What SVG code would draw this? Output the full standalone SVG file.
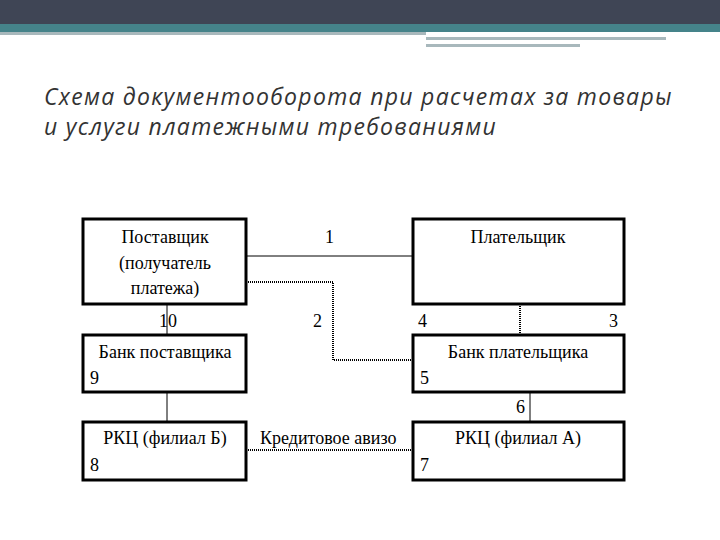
<svg xmlns="http://www.w3.org/2000/svg" width="720" height="540" viewBox="0 0 720 540">
<style>
.box{fill:#fff;stroke:#000;stroke-width:3}
.t{font-family:"Liberation Serif",serif;font-size:18px;fill:#000}
.ln{stroke:#000;stroke-width:1;fill:none}
.dt{stroke:#000;stroke-width:2;stroke-dasharray:1 1;fill:none}
.title{font-family:"Open Sans","DejaVu Sans",sans-serif;font-style:italic;font-size:23px;letter-spacing:1.3px;fill:#333}
</style>
<rect x="0" y="0" width="720" height="24" fill="#3f4555"/>
<rect x="0" y="24" width="720" height="8" fill="#45838a"/>
<rect x="0" y="32" width="426" height="3" fill="#a8b8bc"/>
<rect x="426" y="37" width="240" height="3" fill="#a8b8bc"/>
<rect x="426" y="44" width="154" height="3" fill="#a8b8bc"/>
<text class="title" x="44" y="105">Схема документооборота при расчетах за товары</text>
<text class="title" x="44" y="135">и услуги платежными требованиями</text>
<g id="connectors">
<path class="ln" d="M246 256H413"/>
<path class="dt" d="M246 282H333V360H413"/>
<path class="dt" d="M520 304V335"/>
<path class="ln" d="M167 304V345"/>
<path class="ln" d="M167 392V422"/>
<path class="ln" d="M530 392V422"/>
<path class="dt" d="M246 450H413"/>
<text class="t" x="325" y="243">1</text>
<text class="t" x="313" y="327">2</text>
<text class="t" x="609" y="327">3</text>
<text class="t" x="418" y="327">4</text>
<text class="t" x="159" y="327">10</text>
<text class="t" x="516" y="413">6</text>
<text class="t" x="260" y="444">Кредитовое авизо</text>
</g>
<g id="n-supplier"><rect class="box" x="83" y="219" width="163" height="85"/>
<text class="t" text-anchor="middle" x="165" y="243">Поставщик</text>
<text class="t" text-anchor="middle" x="165" y="269">(получатель</text>
<text class="t" text-anchor="middle" x="165" y="294">платежа)</text></g>
<g id="n-payer"><rect class="box" x="413" y="219" width="211" height="85"/>
<text class="t" text-anchor="middle" x="518" y="243">Плательщик</text></g>
<g id="n-bankS"><rect class="box" x="83" y="335" width="163" height="57"/>
<text class="t" text-anchor="middle" x="165" y="358">Банк поставщика</text>
<text class="t" x="90" y="384">9</text></g>
<g id="n-bankP"><rect class="box" x="413" y="335" width="211" height="57"/>
<text class="t" text-anchor="middle" x="518" y="358">Банк плательщика</text>
<text class="t" x="420" y="384">5</text></g>
<g id="n-rkcB"><rect class="box" x="83" y="422" width="163" height="58"/>
<text class="t" text-anchor="middle" x="165" y="444">РКЦ (филиал Б)</text>
<text class="t" x="90" y="471">8</text></g>
<g id="n-rkcA"><rect class="box" x="413" y="422" width="211" height="58"/>
<text class="t" text-anchor="middle" x="518" y="444">РКЦ (филиал А)</text>
<text class="t" x="420" y="471">7</text></g>
</svg>
